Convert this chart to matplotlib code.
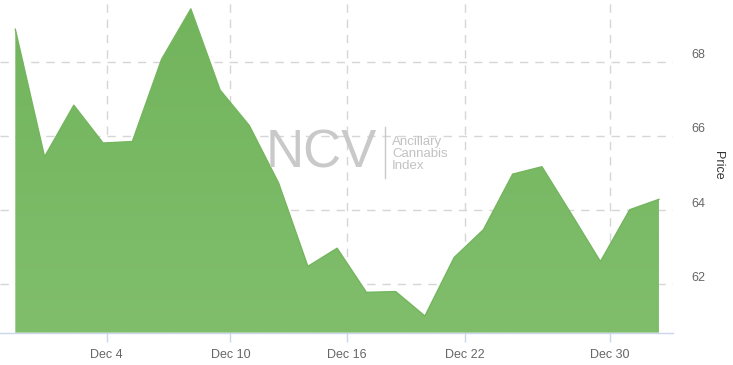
import numpy as np
import matplotlib
matplotlib.use("Agg")
import matplotlib.pyplot as plt
from matplotlib.transforms import ScaledTranslation
from matplotlib.patches import Polygon

# Data (equally spaced trading-day points)
prices = [68.88, 65.44, 66.83, 65.81, 65.85, 68.07, 69.43, 67.24, 66.28, 64.73,
          62.48, 62.97, 61.78, 61.80, 61.14, 62.72, 63.47, 64.97, 65.17, 63.90,
          62.61, 64.01, 64.29]
tick_pos = [3.12, 7.35, 11.34, 15.37, 20.32]
tick_labels = ["Dec 4", "Dec 10", "Dec 16", "Dec 22", "Dec 30"]
y_ticks = [62, 64, 66, 68]
y_label = "Price"

W, H = 733, 365
fig = plt.figure(figsize=(W / 100, H / 100), dpi=100)
plot_right = 673
plot_bottom = 332.7
ax = fig.add_axes([0, (H - plot_bottom) / H, plot_right / W, plot_bottom / H])

x = np.arange(len(prices))
ymin, ymax = 60.69, 69.67
ax.set_xlim(-0.523, len(prices) - 1 + 0.48)
ax.set_ylim(ymin, ymax)

# gradient fill clipped to area polygon
verts = [(x[0], ymin)] + list(zip(x, prices)) + [(x[-1], ymin)]
poly = Polygon(verts, closed=True, facecolor="none", edgecolor="none")
ax.add_patch(poly)
grad = np.linspace(0, 1, 256).reshape(-1, 1)
c_top = np.array([0x72, 0xb4, 0x5c]) / 255
c_bot = np.array([0x80, 0xbe, 0x6c]) / 255
img = c_top[None, None, :] * (1 - grad[:, :, None]) + c_bot[None, None, :] * grad[:, :, None]
im = ax.imshow(img, extent=[x[0], x[-1], ymin, max(prices)], origin="upper",
               aspect="auto", zorder=2)
im.set_clip_path(poly)
ax.plot(x, prices, color="#74b55e", lw=1.0, zorder=3)

# grid
ax.set_xticks(tick_pos)
ax.set_xticklabels(tick_labels)
ax.set_yticks(y_ticks)
ax.grid(True, color="#d6d6d6", linestyle=(0, (6, 5)), lw=1.0, zorder=0)
ax.set_axisbelow(True)

for s in ["top", "left", "right"]:
    ax.spines[s].set_visible(False)
ax.spines["bottom"].set_color("#ccd6eb")
ax.spines["bottom"].set_linewidth(1.0)
ax.spines["bottom"].set_zorder(4)

font = "Liberation Sans"
ax.tick_params(axis="x", length=6.5, width=1, color="#ccd6eb", pad=5,
               labelsize=9, labelcolor="#666666")
ax.tick_params(axis="y", length=0, labelsize=9, labelcolor="#666666",
               left=False, right=False, labelleft=False, labelright=True, pad=13)
for lab in ax.get_xticklabels() + ax.get_yticklabels():
    lab.set_fontfamily(font)
for lab in ax.get_yticklabels():
    lab.set_transform(lab.get_transform() + ScaledTranslation(0, 8 / 100, fig.dpi_scale_trans))

fig.text(718 / W, 1 - 165 / H, y_label, rotation=270, ha="center", va="center",
         fontsize=9, color="#333333", fontfamily=font)

# watermark
wm = "#c9c9c9"
fig.text(321 / W, 1 - 153.5 / H, "NCV", ha="center", va="center", fontsize=38,
         color=wm, fontfamily=font, zorder=1)
fig.add_artist(plt.Line2D([385 / W, 385 / W], [1 - 127 / H, 1 - 178 / H],
                          color=wm, lw=1, transform=fig.transFigure))
for txt, yy in [("Ancillary", 141.5), ("Cannabis", 154), ("Index", 166.5)]:
    fig.text(392 / W, 1 - yy / H, txt, ha="left", va="center", fontsize=9.5,
             color="#c2c2c2", fontfamily=font)

fig.savefig("out.png", dpi=100)
